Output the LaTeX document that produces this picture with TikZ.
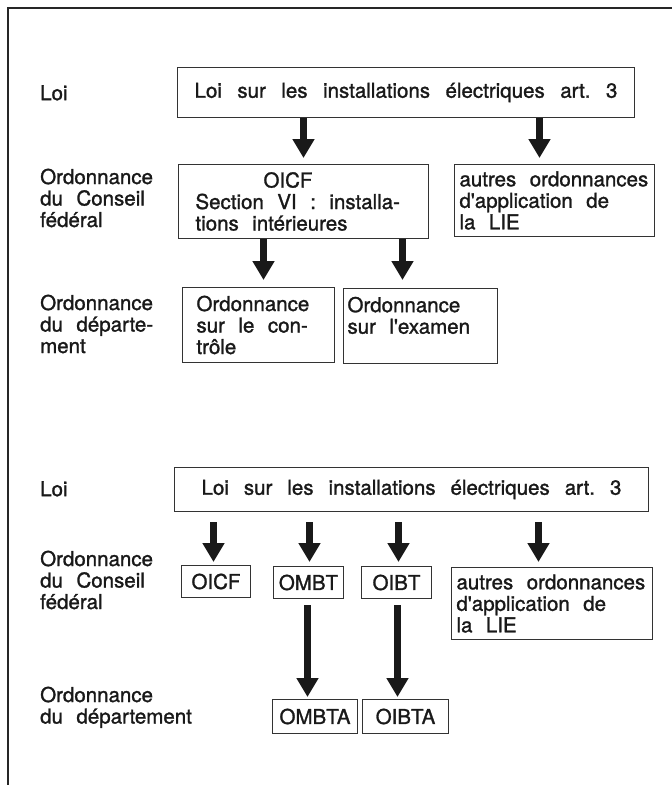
\documentclass[tikz,border=0pt]{standalone}
\usepackage{fontspec}
\setmainfont{TeX Gyre Heros}
\newfontface\hvA{TeX Gyre Heros}[FakeBold=1.3]
\usetikzlibrary{arrows.meta,calc}
\newcommand\fA{\hvA\fontsize{20.5}{21.5}\selectfont}
\newcommand\ws{\hspace{13.5pt}}
\newcommand\wsb{\hspace{15.5pt}}
\newcommand\wsc{\hspace{15pt}}
\newcommand\bx[8]{\node[box, minimum width=#4pt, minimum height=#5pt, inner xsep=#6pt, text width=#7pt] (#1) at (#2,#3) {#8};}
\begin{document}
\begin{tikzpicture}[x=1pt,y=-1pt,
  txt/.style={font=\fA, text=black!90, inner sep=0pt},
  box/.style={txt, draw=black!80, line width=1pt, anchor=north west, align=left},
  cbox/.style={box, align=center},
  lab/.style={txt, anchor=north west, align=left},
  bigarr/.style={line width=7pt, black!90, -{Triangle[width=21pt,length=19pt]}}
]
\useasboundingbox (0,0) rectangle (672,785);
\fill[white] (0,0) rectangle (672,785);
% frame
\draw[line width=1.6pt, black!85] (8,785) -- (8,8) -- (672,8);

% ---------- upper diagram ----------
\node[lab] (lLoi1) at (40,85) {Loi};
\node[lab] (lCF1) at (40,168.5) {Ordonnance\\du\ws Conseil\\fédéral};
\node[lab] (lDep1) at (40,294.5) {Ordonnance\\du\ws départe-\\ment};

\node[cbox, minimum width=457pt, minimum height=50pt, text width=455pt, inner xsep=1pt] (loi1) at (177,67)
      {Loi\wsb sur\wsb les\wsb installations\wsb électriques\wsb art.\wsb 3};
\bx{oicf1}{178}{164}{250}{74}{17}{216}{\hspace*{68pt}OICF\\Section\ws VI\ws :\ws installa-\\tions\ws intérieures}
\bx{autres1}{454}{164}{198}{72}{5}{190}{autres\ws ordonnances\\d'application\ws de\\la\ws LIE}
\bx{ctrl1}{182}{287}{152}{75}{14}{124}{Ordonnance\\sur\ws le\ws con-\\trôle}
\bx{exam1}{343}{288}{154}{75}{4}{146}{Ordonnance\\sur\ws l'examen\\\mbox{}}

\draw[bigarr, shorten >=6pt] (loi1.south -| oicf1.north) -- (oicf1.north);
\coordinate (t2) at ([xshift=-15pt]autres1.north);
\draw[bigarr, shorten >=6pt] (loi1.south -| t2) -- (t2);
\coordinate (t3) at ([xshift=5pt]ctrl1.north);
\draw[bigarr, shorten >=7pt] (oicf1.south -| t3) -- (t3);
\coordinate (t4) at ([xshift=-18pt]exam1.north);
\draw[bigarr, shorten >=8pt] (oicf1.south -| t4) -- (t4);

% ---------- lower diagram ----------
\node[lab] (lLoi2) at (40,481) {Loi};
\node[lab] (lCF2) at (40,550.5) {Ordonnance\\du\ws Conseil\\fédéral};
\node[lab] (lDep2) at (40,686.5) {Ordonnance\\du\ws département};

\node[cbox, minimum width=474pt, minimum height=44pt, text width=472pt, inner xsep=1pt] (loi2) at (174,467)
      {Loi\wsc sur\wsc les\wsc installations\wsc électriques\wsc art.\wsc 3};
\node[cbox, minimum width=69pt, minimum height=32pt] (oicf2) at (181,565) {OICF};
\node[cbox, minimum width=70pt, minimum height=32pt] (ombt) at (273,566) {OMBT};
\node[cbox, minimum width=70pt, minimum height=32pt] (oibt) at (361,566) {OIBT};
\bx{autres2}{451}{567}{199}{72}{5}{191}{autres\ws ordonnances\\d'application\ws de\\la\ws LIE}
\node[cbox, minimum width=85pt, minimum height=34pt] (ombta) at (272,699) {OMBTA};
\node[cbox, minimum width=86pt, minimum height=34pt] (oibta) at (362,699) {OIBTA};

\coordinate (t5) at ([xshift=-2.5pt]oicf2.north);
\draw[bigarr, shorten <=10pt, shorten >=3pt] (loi2.south -| t5) -- (t5);
\coordinate (t6) at ([xshift=1pt]ombt.north);
\draw[bigarr, shorten <=10pt, shorten >=4pt] (loi2.south -| t6) -- (t6);
\coordinate (t7) at ([xshift=2pt]oibt.north);
\draw[bigarr, shorten <=10pt, shorten >=4pt] (loi2.south -| t7) -- (t7);
\coordinate (t8) at ([xshift=-13.5pt]autres2.north);
\draw[bigarr, shorten <=10pt, shorten >=5pt] (loi2.south -| t8) -- (t8);
\coordinate (t9) at ([xshift=-1pt]ombt.south);
\draw[bigarr, shorten <=6pt, shorten >=2pt] (t9) -- (t9 |- ombta.north);
\coordinate (t10) at ([xshift=1pt]oibt.south);
\draw[bigarr, shorten <=6pt, shorten >=2pt] (t10) -- (t10 |- oibta.north);
\end{tikzpicture}
\end{document}
